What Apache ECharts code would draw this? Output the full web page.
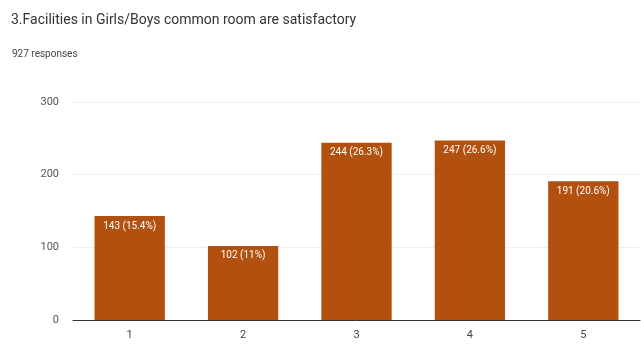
<!DOCTYPE html>
<html lang="en">
<head>
  <meta charset="UTF-8">
  <title>Facilities in Girls/Boys common room</title>
  <script src="https://cdn.jsdelivr.net/npm/echarts@6/dist/echarts.min.js"></script>
  <style>
    body { margin: 0; background: #fff; }
  </style>
</head>
<body>
<div id="main" style="width:641px;height:347px;"></div>
<script>
  // data
  var categories = ['1', '2', '3', '4', '5'];
  var counts = [143, 102, 244, 247, 191];
  var percents = ['15.4%', '11%', '26.3%', '26.6%', '20.6%'];
  var yTicks = [0, 100, 200, 300];

  var myChart = echarts.init(document.getElementById('main'));

  var option = {
    backgroundColor: '#fff',
    animation: false,
    title: [
      {
        text: '3.Facilities in Girls/Boys common room are satisfactory',
        left: 6, top: 8,
        textStyle: { fontFamily: 'Roboto', fontSize: 14, fontWeight: 'normal', color: '#333' }
      },
      {
        text: '927 responses',
        left: 7, top: 44,
        textStyle: { fontFamily: 'Roboto', fontSize: 10, fontWeight: 'normal', color: '#444' }
      }
    ],
    grid: { left: 73, right: 1, top: 102, bottom: 27 },
    xAxis: {
      type: 'category',
      data: categories,
      axisTick: { show: false },
      axisLine: { lineStyle: { color: '#333' } },
      axisLabel: { color: '#444', fontFamily: 'Roboto', fontSize: 11, margin: 10 }
    },
    yAxis: {
      type: 'value',
      min: yTicks[0],
      max: yTicks[yTicks.length - 1],
      interval: 100,
      axisLine: { show: false },
      axisTick: { show: false },
      axisLabel: { color: '#555', fontFamily: 'Roboto', fontSize: 11, margin: 14 },
      splitLine: { lineStyle: { color: '#eee' } }
    },
    series: [
      {
        type: 'bar',
        data: counts,
        barWidth: '62%',
        itemStyle: { color: '#b1500f' },
        label: {
          show: true,
          position: 'insideTop',
          distance: 5,
          color: '#fff',
          fontFamily: 'Roboto',
          fontSize: 10,
          formatter: function (p) {
            return p.value + ' (' + percents[p.dataIndex] + ')';
          }
        }
      }
    ]
  };

  myChart.setOption(option);
</script>
</body>
</html>
